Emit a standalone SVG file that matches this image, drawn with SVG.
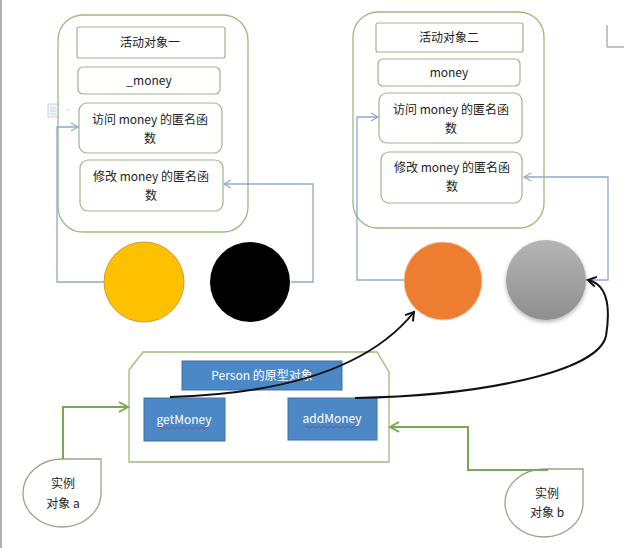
<svg xmlns="http://www.w3.org/2000/svg" width="633" height="548" viewBox="0 0 633 548">
<defs>
<style>
.cont{fill:#fff;stroke:#9CBB7E;stroke-width:1.3}
.box{fill:#fff;stroke:#9FB38C;stroke-width:1.2}
.t{font-family:"Noto Sans CJK SC","Liberation Sans",sans-serif;font-size:12px;fill:#222;text-anchor:middle}
.tw{font-family:"Noto Sans CJK SC","Liberation Sans",sans-serif;font-size:12px;fill:#fff;text-anchor:middle}
.blue{fill:none;stroke:#8FAACB;stroke-width:1.3}
.green{fill:none;stroke:#79A84E;stroke-width:2}
.curve{fill:none;stroke:#111;stroke-width:2}
.pbox{fill:#4C87C6;stroke:#3F73A8;stroke-width:1}
.drop{fill:#fff;stroke:#9AA58A;stroke-width:1.3}
.wavy{fill:none;stroke:#A0437A;stroke-width:0.9}
</style>
<marker id="ab" markerWidth="10" markerHeight="10" refX="8" refY="5" orient="auto" markerUnits="userSpaceOnUse"><path d="M1,1 L8,5 L1,9" fill="none" stroke="#8FAACB" stroke-width="1.3"/></marker>
<marker id="ag" markerWidth="12" markerHeight="12" refX="10" refY="6" orient="auto" markerUnits="userSpaceOnUse"><path d="M1,1 L10,6 L1,11" fill="none" stroke="#79A84E" stroke-width="2"/></marker>
<marker id="ak" markerWidth="12" markerHeight="12" refX="10" refY="6" orient="auto" markerUnits="userSpaceOnUse"><path d="M2,1 L10,6 L2,11" fill="none" stroke="#111" stroke-width="2"/></marker>
<linearGradient id="gg" x1="0" y1="0" x2="0" y2="1"><stop offset="0" stop-color="#B5B5B5"/><stop offset="1" stop-color="#8E8E8E"/></linearGradient>
<filter id="sh" x="-30%" y="-30%" width="160%" height="160%"><feDropShadow dx="0" dy="2" stdDeviation="2" flood-color="#000" flood-opacity="0.3"/></filter>
</defs>
<rect width="633" height="548" fill="#fff"/>
<line x1="1" y1="0" x2="1" y2="548" stroke="#B0B0B0" stroke-width="2"/>
<path d="M607,25 L607,47 L624,47" fill="none" stroke="#8A8A8A" stroke-width="1"/>

<g id="obj1">
<rect class="cont" x="58" y="15" width="190" height="217" rx="25"/>
<rect class="box" x="77" y="27" width="148" height="31" rx="2"/>
<text class="t" x="150" y="47">活动对象一</text>
<rect class="box" x="78" y="67" width="142" height="27" rx="5"/>
<text class="t" x="149" y="85">_money</text>
<rect class="box" x="79" y="103" width="143" height="50" rx="8"/>
<text class="t" x="150" y="124">访问 money 的匿名函</text>
<text class="t" x="150" y="143">数</text>
<rect class="box" x="80" y="160" width="143" height="51" rx="8"/>
<text class="t" x="151" y="181">修改 money 的匿名函</text>
<text class="t" x="151" y="200">数</text>
</g>

<g id="paste-icon" opacity="0.6">
<rect x="48" y="104" width="10" height="13" fill="#EAF1F8" stroke="#9DB6D3" stroke-width="1"/>
<path d="M50,108 H56 M50,111 H56 M50,114 H56" stroke="#9DB6D3" stroke-width="1"/>
<path d="M67,110 H70" stroke="#9DB6D3" stroke-width="1"/>
</g>

<g id="obj2">
<rect class="cont" x="353" y="12" width="191" height="216" rx="25"/>
<rect class="box" x="376" y="23" width="147" height="29" rx="2"/>
<text class="t" x="449" y="42">活动对象二</text>
<rect class="box" x="378" y="59" width="142" height="27" rx="5"/>
<text class="t" x="449" y="77">money</text>
<rect class="box" x="379" y="93" width="143" height="50" rx="8"/>
<text class="t" x="451" y="114">访问 money 的匿名函</text>
<text class="t" x="451" y="133">数</text>
<rect class="box" x="381" y="152" width="141" height="51" rx="8"/>
<text class="t" x="452" y="172">修改 money 的匿名函</text>
<text class="t" x="452" y="191">数</text>
</g>

<g id="circle-yellow"><circle cx="144" cy="282" r="40" fill="#FFC000" stroke="#C9A030" stroke-width="1"/></g>
<g id="circle-black"><circle cx="250" cy="282" r="40" fill="#000"/></g>
<g id="circle-orange"><circle cx="443" cy="281" r="39" fill="#ED7D31" stroke="#F6C39A" stroke-width="1"/></g>
<g id="circle-gray"><circle cx="546" cy="280" r="40" fill="url(#gg)" filter="url(#sh)"/></g>

<g id="prototype">
<path class="cont" d="M143,352 L377,352 L389,372 L389,462 L129,462 L129,370 Z"/>
<rect class="pbox" x="182" y="361" width="160" height="29"/>
<text class="tw" x="262" y="380">Person 的原型对象</text>
</g>
<g id="getMoney">
<rect class="pbox" x="144" y="398" width="81" height="43"/>
<text class="tw" x="184" y="424" font-family="Liberation Sans, sans-serif">getMoney</text>
<path class="wavy" d="M158,428 q1.5,-2 3,0 t3,0 t3,0 t3,0 t3,0 t3,0 t3,0 t3,0 t3,0 t3,0 t3,0 t3,0 t3,0 t3,0 t3,0 t3,0 t3,0"/>
</g>
<g id="addMoney">
<rect class="pbox" x="288" y="398" width="89" height="42"/>
<text class="tw" x="332" y="423" font-family="Liberation Sans, sans-serif">addMoney</text>
<path class="wavy" d="M305,427 q1.5,-2 3,0 t3,0 t3,0 t3,0 t3,0 t3,0 t3,0 t3,0 t3,0 t3,0 t3,0 t3,0 t3,0 t3,0 t3,0 t3,0 t3,0 t3,0"/>
</g>

<g id="instance-a">
<path class="drop" d="M62,459 L101,459 L101,493 A39,34 0 1 1 62,459 Z"/>
<text class="t" x="63" y="488">实例</text>
<text class="t" x="63" y="508">对象 a</text>
</g>
<g id="instance-b">
<path class="drop" d="M544,469 L583,469 L583,503 A39,34 0 1 1 544,469 Z"/>
<text class="t" x="547" y="498">实例</text>
<text class="t" x="547" y="517">对象 b</text>
</g>

<g id="connectors">
<path class="blue" d="M104,282 H57 V127 H78" marker-end="url(#ab)"/>
<path class="blue" d="M291,282 H313 V184 H224" marker-end="url(#ab)"/>
<path class="blue" d="M404,280 H357 V117 H378" marker-end="url(#ab)"/>
<path class="blue" d="M586,280 H608 V177 H524" marker-end="url(#ab)"/>
<path class="green" d="M63,459 V407 H128" marker-end="url(#ag)"/>
<path class="green" d="M548,470 H468 V427 H390" marker-end="url(#ag)"/>
<path class="curve" d="M170,397 Q350,392 414,312" marker-end="url(#ak)"/>
<path class="curve" d="M355,398 C480,396 598,372 606,336 C611,305 606,284 588,280" marker-end="url(#ak)"/>
</g>
</svg>
